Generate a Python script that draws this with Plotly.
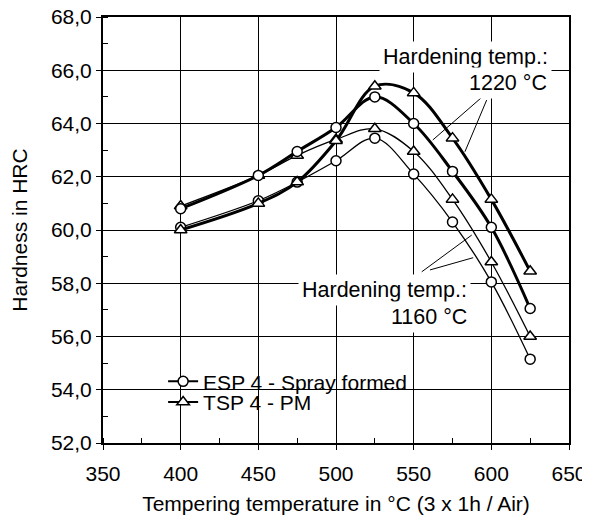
import plotly.graph_objects as go

# ---------------- data ----------------
temps = [400, 450, 475, 500, 525, 550, 575, 600, 625]

esp_1220 = [60.8, 62.05, 62.95, 63.85, 65.0, 64.0, 62.2, 60.1, 57.05]
tsp_1220 = [60.0, 61.0, 61.8, 63.35, 65.4, 65.15, 63.45, 61.15, 58.45]
esp_1160 = [60.1, 61.1, 61.8, 62.6, 63.45, 62.1, 60.3, 58.05, 55.15]
tsp_1160 = [60.9, 62.05, 62.8, 63.4, 63.8, 62.95, 61.15, 58.8, 56.0]

x_ticks = [350, 400, 450, 500, 550, 600, 650]
y_ticks = [52, 54, 56, 58, 60, 62, 64, 66, 68]
y_tick_labels = ["52,0", "54,0", "56,0", "58,0", "60,0", "62,0", "64,0", "66,0", "68,0"]

legend_names = ["ESP 4 - Spray formed", "TSP 4 - PM"]

FONT = "Arial, Liberation Sans, sans-serif"

fig = go.Figure()


def add_series(y, symbol, width, size):
    fig.add_trace(go.Scatter(
        x=temps, y=y, mode="lines+markers",
        line=dict(color="black", width=width, shape="spline", smoothing=1),
        marker=dict(symbol=symbol, size=size, color="white",
                    line=dict(color="black", width=1.5)),
        showlegend=False, cliponaxis=False, hoverinfo="skip"))


# thin: 1160 °C, thick: 1220 °C
add_series(esp_1160, "circle", 1.3, 10)
add_series(tsp_1160, "triangle-up", 1.3, 11)
add_series(esp_1220, "circle", 3, 10)
add_series(tsp_1220, "triangle-up", 3, 11)

# legend entries
fig.add_trace(go.Scatter(
    x=[None], y=[None], mode="lines+markers", name=legend_names[0],
    line=dict(color="black", width=2),
    marker=dict(symbol="circle", size=10, color="white", line=dict(color="black", width=1.5)),
    legend="legend"))
fig.add_trace(go.Scatter(
    x=[None], y=[None], mode="lines+markers", name=legend_names[1],
    line=dict(color="black", width=2),
    marker=dict(symbol="triangle-up", size=11, color="white", line=dict(color="black", width=1.5)),
    legend="legend2"))

# leader lines for annotations
leaders = [
    (593.2, 64.95, 562.3, 63.38),
    (597.0, 64.88, 583.0, 62.94),
    (587.4, 59.81, 555.2, 58.43),
    (588.3, 58.96, 560.5, 58.50),
]
for x0, y0, x1, y1 in leaders:
    fig.add_shape(type="line", xref="x", yref="y", x0=x0, y0=y0, x1=x1, y1=y1,
                  line=dict(color="black", width=1), layer="above")

# white box behind legend
fig.add_shape(type="rect", xref="paper", yref="paper",
              x0=0.135, x1=0.66, y0=0.061, y1=0.176,
              fillcolor="white", line=dict(width=0), layer="between")

ann_font = dict(family=FONT, size=21.5, color="black")
for txt, x, y in [("Hardening temp.:", 638.8, 66.51), ("1220 °C", 638.3, 65.52),
                  ("Hardening temp.:", 587.1, 57.75), ("1160 °C", 587.1, 56.74)]:
    fig.add_annotation(text=txt, x=x, y=y, xref="x", yref="y", xanchor="right",
                       yanchor="middle", showarrow=False, font=ann_font,
                       bgcolor="white", borderpad=3)

# page body adds an 8px offset; margins compensate so the plot area matches
fig.update_layout(
    width=590, height=521,
    margin=dict(l=95, r=29, t=9, b=86),
    template="none",
    paper_bgcolor="white", plot_bgcolor="white",
    font=dict(family=FONT, size=21, color="black"),
    legend=dict(x=0.129, y=0.1439, xanchor="left", yanchor="middle",
                bgcolor="rgba(0,0,0,0)", font=dict(family=FONT, size=21)),
    legend2=dict(x=0.129, y=0.0955, xanchor="left", yanchor="middle",
                 bgcolor="rgba(0,0,0,0)", font=dict(family=FONT, size=21)),
)

fig.update_xaxes(
    range=[350, 650], tickvals=x_ticks, ticktext=[str(v) for v in x_ticks],
    showgrid=True, gridcolor="black", gridwidth=1,
    showline=True, linecolor="black", linewidth=2, mirror=True,
    ticks="outside", ticklen=5, tickcolor="black", tickwidth=1,
    ticklabelstandoff=6, ticklabeloverflow="allow",
    minor=dict(dtick=25, ticks="inside", ticklen=5, tickcolor="black", showgrid=False),
    zeroline=False, automargin=False,
    title=dict(text="Tempering temperature in °C (3 x 1h / Air)", standoff=12,
               font=dict(family=FONT, size=21)),
)
fig.update_yaxes(
    range=[52, 68], tickvals=y_ticks, ticktext=y_tick_labels,
    showgrid=True, gridcolor="black", gridwidth=1,
    showline=True, linecolor="black", linewidth=2, mirror=True,
    ticks="outside", ticklen=5, tickcolor="black", tickwidth=1,
    ticklabeloverflow="allow",
    minor=dict(dtick=1, ticks="inside", ticklen=5, tickcolor="black", showgrid=False),
    zeroline=False, automargin=False,
    title=dict(text="Hardness in HRC", standoff=19, font=dict(family=FONT, size=21)),
)

fig.write_html("out.html")
